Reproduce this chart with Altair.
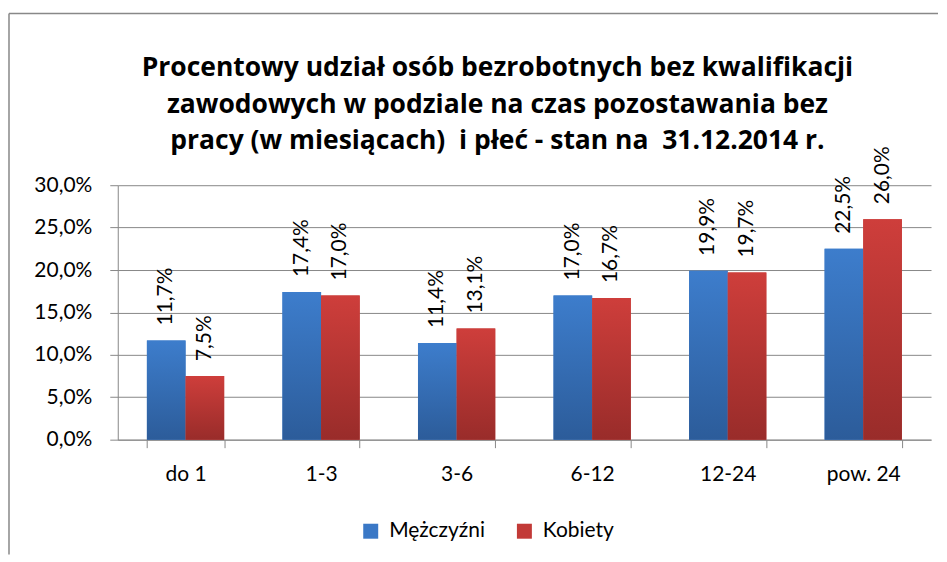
import altair as alt
import pandas as pd

categories = ["do 1", "1-3", "3-6", "6-12", "12-24", "pow. 24"]
series = ["Mężczyźni", "Kobiety"]
men = [11.7, 17.4, 11.4, 17.0, 19.9, 22.5]
women = [7.5, 17.0, 13.1, 16.7, 19.7, 26.0]
y_ticks = [0.0, 0.05, 0.10, 0.15, 0.20, 0.25, 0.30]
title_lines = [
    "Procentowy udział osób bezrobotnych bez kwalifikacji",
    "zawodowych w podziale na czas pozostawania bez",
    "pracy (w miesiącach)\u00a0 i płeć - stan na\u00a0 31.12.2014 r.",
]

rows = []
for c, m, w in zip(categories, men, women):
    for s, v in ((series[0], m), (series[1], w)):
        rows.append({"cat": c, "sex": s, "value": v / 100,
                     "label": f"{v:.1f}".replace(".", ",") + "%"})
df = pd.DataFrame(rows)

FONT = "Lato"
TFONT = "Open Sans"
GRID = "#888888"

grad_blue = {"gradient": "linear", "x1": 0, "y1": 0, "x2": 0, "y2": 1,
             "stops": [{"offset": 0, "color": "#3D7DCC"},
                       {"offset": 1, "color": "#2C5C9A"}]}
grad_red = {"gradient": "linear", "x1": 0, "y1": 0, "x2": 0, "y2": 1,
            "stops": [{"offset": 0, "color": "#CE3E3B"},
                      {"offset": 1, "color": "#992C2A"}]}

base = alt.Chart(df).encode(
    x=alt.X("cat:N", sort=categories, title=None,
            scale=alt.Scale(paddingInner=0.43, paddingOuter=0.215),
            axis=alt.Axis(labelAngle=0, tickBand="extent", grid=False,
                          tickSize=8, labelPadding=16, labelFontSize=21)),
    xOffset=alt.XOffset("sex:N", sort=series,
                        scale=alt.Scale(domain=series, paddingInner=0, paddingOuter=0)),
    y=alt.Y("value:Q", title=None,
            scale=alt.Scale(domain=[0, 0.30], nice=False),
            axis=alt.Axis(values=y_ticks, tickSize=8, labelPadding=18, labelFontSize=21,
                          labelExpr="replace(format(datum.value, '.1%'), '.', ',')")),
)

bars_flat = base.mark_bar().encode(
    color=alt.Color("sex:N", sort=series,
                    scale=alt.Scale(domain=series, range=["#3A78C6", "#C23A37"]),
                    legend=alt.Legend(title=None, orient="none", legendX=243, legendY=336,
                                      direction="horizontal", symbolType="square",
                                      symbolSize=225, labelFontSize=21, labelFont=FONT,
                                      labelColor="black",
                                      columnPadding=28, labelOffset=8, symbolStrokeWidth=0))
)

bars_grad = base.mark_bar().encode(
    fill=alt.condition(alt.datum.sex == series[0], alt.value(grad_blue), alt.value(grad_red))
)

labels = base.mark_text(angle=270, align="left", baseline="middle", dx=15,
                        fontSize=21, font=FONT, color="black").encode(text="label:N")

frame_df = pd.DataFrame({"k": [0]})
frame_left = alt.Chart(frame_df).mark_rule(color=GRID, strokeWidth=1.5).encode(
    x=alt.value(-109), y=alt.value(-172), y2=alt.value(370))
frame_top = alt.Chart(frame_df).mark_rule(color=GRID, strokeWidth=1.5).encode(
    x=alt.value(-109), x2=alt.value(822), y=alt.value(-172))

chart = alt.layer(frame_left, frame_top, bars_flat, bars_grad, labels).properties(
    width=815, height=255,
    padding={"left": 0, "top": 4, "right": 0, "bottom": 0},
    title=alt.TitleParams(title_lines, font=TFONT, fontSize=26.5, fontWeight="bold",
                          lineHeight=36.5, anchor="middle", frame="group", dx=-27,
                          offset=-142, color="black"),
).configure_view(stroke=None).configure_axis(
    domainColor=GRID, tickColor=GRID, gridColor=GRID, labelFont=FONT,
    labelColor="black", domainWidth=1, tickWidth=1, gridWidth=1,
)

chart.save("out.html", embed_options={"renderer": "svg", "actions": False})
